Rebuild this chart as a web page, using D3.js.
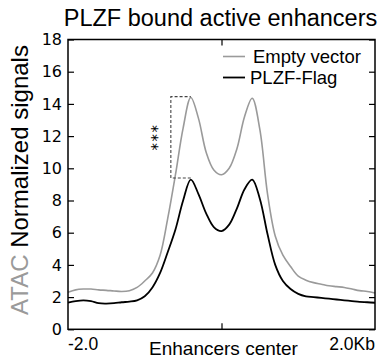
<!DOCTYPE html>
<html>
<head>
<meta charset="utf-8">
<script src="https://cdn.jsdelivr.net/npm/d3@7"></script>
<style>
  body { margin: 0; background: #fff; }
  text { font-family: "Liberation Sans", Arial, sans-serif; }
</style>
</head>
<body>
<script>
// distance from enhancer center, bp
var positions = [-2000, -1900, -1800, -1700, -1600, -1500, -1400, -1300, -1200, -1100,
  -1000, -900, -800, -700, -600, -500, -400, -300, -200, -100,
  0, 100, 200, 300, 400, 500, 600, 700, 800, 900,
  1000, 1100, 1200, 1300, 1400, 1500, 1600, 1700, 1800, 1900, 2000];

var emptyVector = [2.3, 2.45, 2.5, 2.5, 2.45, 2.42, 2.38, 2.35, 2.4, 2.6,
  3.0, 3.5, 4.6, 6.9, 9.6, 12.5, 14.4, 13.1, 11.0, 9.9,
  9.6, 10.0, 11.2, 13.2, 14.35, 12.4, 8.4, 5.8, 4.6, 3.9,
  3.3, 3.05, 2.9, 2.8, 2.7, 2.65, 2.6, 2.5, 2.4, 2.35, 2.25];

var plzfFlag = [1.65, 1.75, 1.8, 1.75, 1.62, 1.6, 1.62, 1.68, 1.72, 1.8,
  2.05, 2.6, 3.5, 4.8, 6.2, 8.0, 9.3, 8.4, 7.2, 6.35,
  6.1, 6.5, 7.5, 8.7, 9.3, 8.1, 5.9, 4.0, 3.0, 2.5,
  2.2, 2.05, 2.0, 1.95, 1.9, 1.85, 1.8, 1.75, 1.7, 1.68, 1.65];

var seriesNames = ["Empty vector", "PLZF-Flag"];
var seriesColors = ["#9a9a9a", "#000000"];

var yTicks = [0, 2, 4, 6, 8, 10, 12, 14, 16, 18];
var xTickLabels = ["-2.0", "Enhancers center", "2.0Kb"];

// significance bracket between the first peaks
var bracketX = [-400, -660];
var bracketY = [9.4, 14.45];
var starPos = [-840, 11.95];

var width = 383, height = 363;
var margin = {left: 68, right: 8, top: 39.5, bottom: 33.7};

var svg = d3.select("body").
  append("svg").
  attr("width", width).
  attr("height", height);

var x = d3.scaleLinear().domain([-2000, 2000]).range([margin.left, width - margin.right]);
var y = d3.scaleLinear().domain([0, 18]).range([height - margin.bottom, margin.top]);

// title
svg.append("text")
  .attr("x", 220.5).attr("y", 26)
  .attr("text-anchor", "middle")
  .style("font-size", "23.5px")
  .text("PLZF bound active enhancers");

// y axis label, two colours
var ylab = svg.append("text")
  .attr("transform", "translate(28," + 180 + ") rotate(-90)")
  .attr("text-anchor", "middle")
  .style("font-size", "24px");
ylab.append("tspan").attr("fill", "#9a9a9a").text("ATAC ");
ylab.append("tspan").attr("fill", "#000").text("Normalized signals");

// ticks on left and right, inward
var yAxisL = d3.axisRight(y).tickValues(yTicks).tickSize(6).tickFormat("");
var yAxisR = d3.axisLeft(y).tickValues(yTicks).tickSize(6).tickFormat("");
svg.append("g").attr("transform", "translate(" + x(-2000) + ",0)").call(yAxisL);
svg.append("g").attr("transform", "translate(" + x(2000) + ",0)").call(yAxisR);
svg.append("g").attr("transform", "translate(0," + y(0) + ")")
  .call(d3.axisTop(x).tickValues([0]).tickSize(6).tickFormat(""));
svg.append("g").attr("transform", "translate(0," + y(18) + ")")
  .call(d3.axisBottom(x).tickValues([0]).tickSize(6).tickFormat(""));
svg.selectAll(".domain").remove();
svg.selectAll(".tick line").attr("stroke", "#000").attr("stroke-width", 1.2);

// y tick labels
svg.selectAll(".ylabel").data(yTicks).enter().append("text")
  .attr("class", "ylabel")
  .attr("x", x(-2000) - 6)
  .attr("y", function(d) { return y(d); })
  .attr("dy", "0.36em")
  .attr("text-anchor", "end")
  .style("font-family", "'DejaVu Sans', sans-serif")
  .style("font-size", "16px")
  .text(function(d) { return d; });

// x labels
svg.append("text").attr("x", x(-2000)).attr("y", 350)
  .attr("text-anchor", "start").style("font-size", "17.5px").text(xTickLabels[0]);
svg.append("text").attr("x", x(0) + 2).attr("y", 355)
  .attr("text-anchor", "middle").style("font-size", "19px").text(xTickLabels[1]);
svg.append("text").attr("x", x(2000)).attr("y", 350)
  .attr("text-anchor", "end").style("font-size", "17.5px").text(xTickLabels[2]);

// lines
var line = d3.line()
  .x(function(d) { return x(d[0]); })
  .y(function(d) { return y(d[1]); })
  .curve(d3.curveCatmullRom.alpha(0.5));

var series = [emptyVector, plzfFlag];
series.forEach(function(vals, i) {
  svg.append("path")
    .datum(positions.map(function(p, j) { return [p, vals[j]]; }))
    .attr("fill", "none")
    .attr("stroke", seriesColors[i])
    .attr("stroke-width", i === 0 ? 1.6 : 1.8)
    .attr("d", line);
});

// bracket
svg.append("path")
  .attr("fill", "none")
  .attr("stroke", "#444")
  .attr("stroke-width", 1.1)
  .attr("stroke-dasharray", "3,2")
  .attr("d", "M" + x(bracketX[0]) + "," + y(bracketY[0]) +
    "H" + x(bracketX[1]) + "V" + y(bracketY[1]) + "H" + x(bracketX[0]));

// stars, written vertically
svg.append("text")
  .attr("transform", "translate(" + x(starPos[0]) + "," + y(starPos[1]) + ") rotate(-90)")
  .attr("text-anchor", "middle")
  .attr("dy", "0.38em")
  .style("font-family", "'DejaVu Sans', sans-serif")
  .style("font-size", "15px")
  .style("letter-spacing", "1.5px")
  .text("***");

// frame
svg.append("rect")
  .attr("x", x(-2000)).attr("y", y(18))
  .attr("width", x(2000) - x(-2000)).attr("height", y(0) - y(18))
  .attr("fill", "none").attr("stroke", "#000").attr("stroke-width", 1.5);

// legend
var legendY = [56.5, 77.5];
seriesNames.forEach(function(name, i) {
  svg.append("line")
    .attr("x1", 223).attr("x2", 245)
    .attr("y1", legendY[i]).attr("y2", legendY[i])
    .attr("stroke", seriesColors[i]).attr("stroke-width", i === 0 ? 1.6 : 1.8);
  svg.append("text")
    .attr("x", i === 0 ? 253 : 250).attr("y", legendY[i] + 6.5)
    .style("font-size", "18.5px")
    .text(name);
});
</script>
</body>
</html>
